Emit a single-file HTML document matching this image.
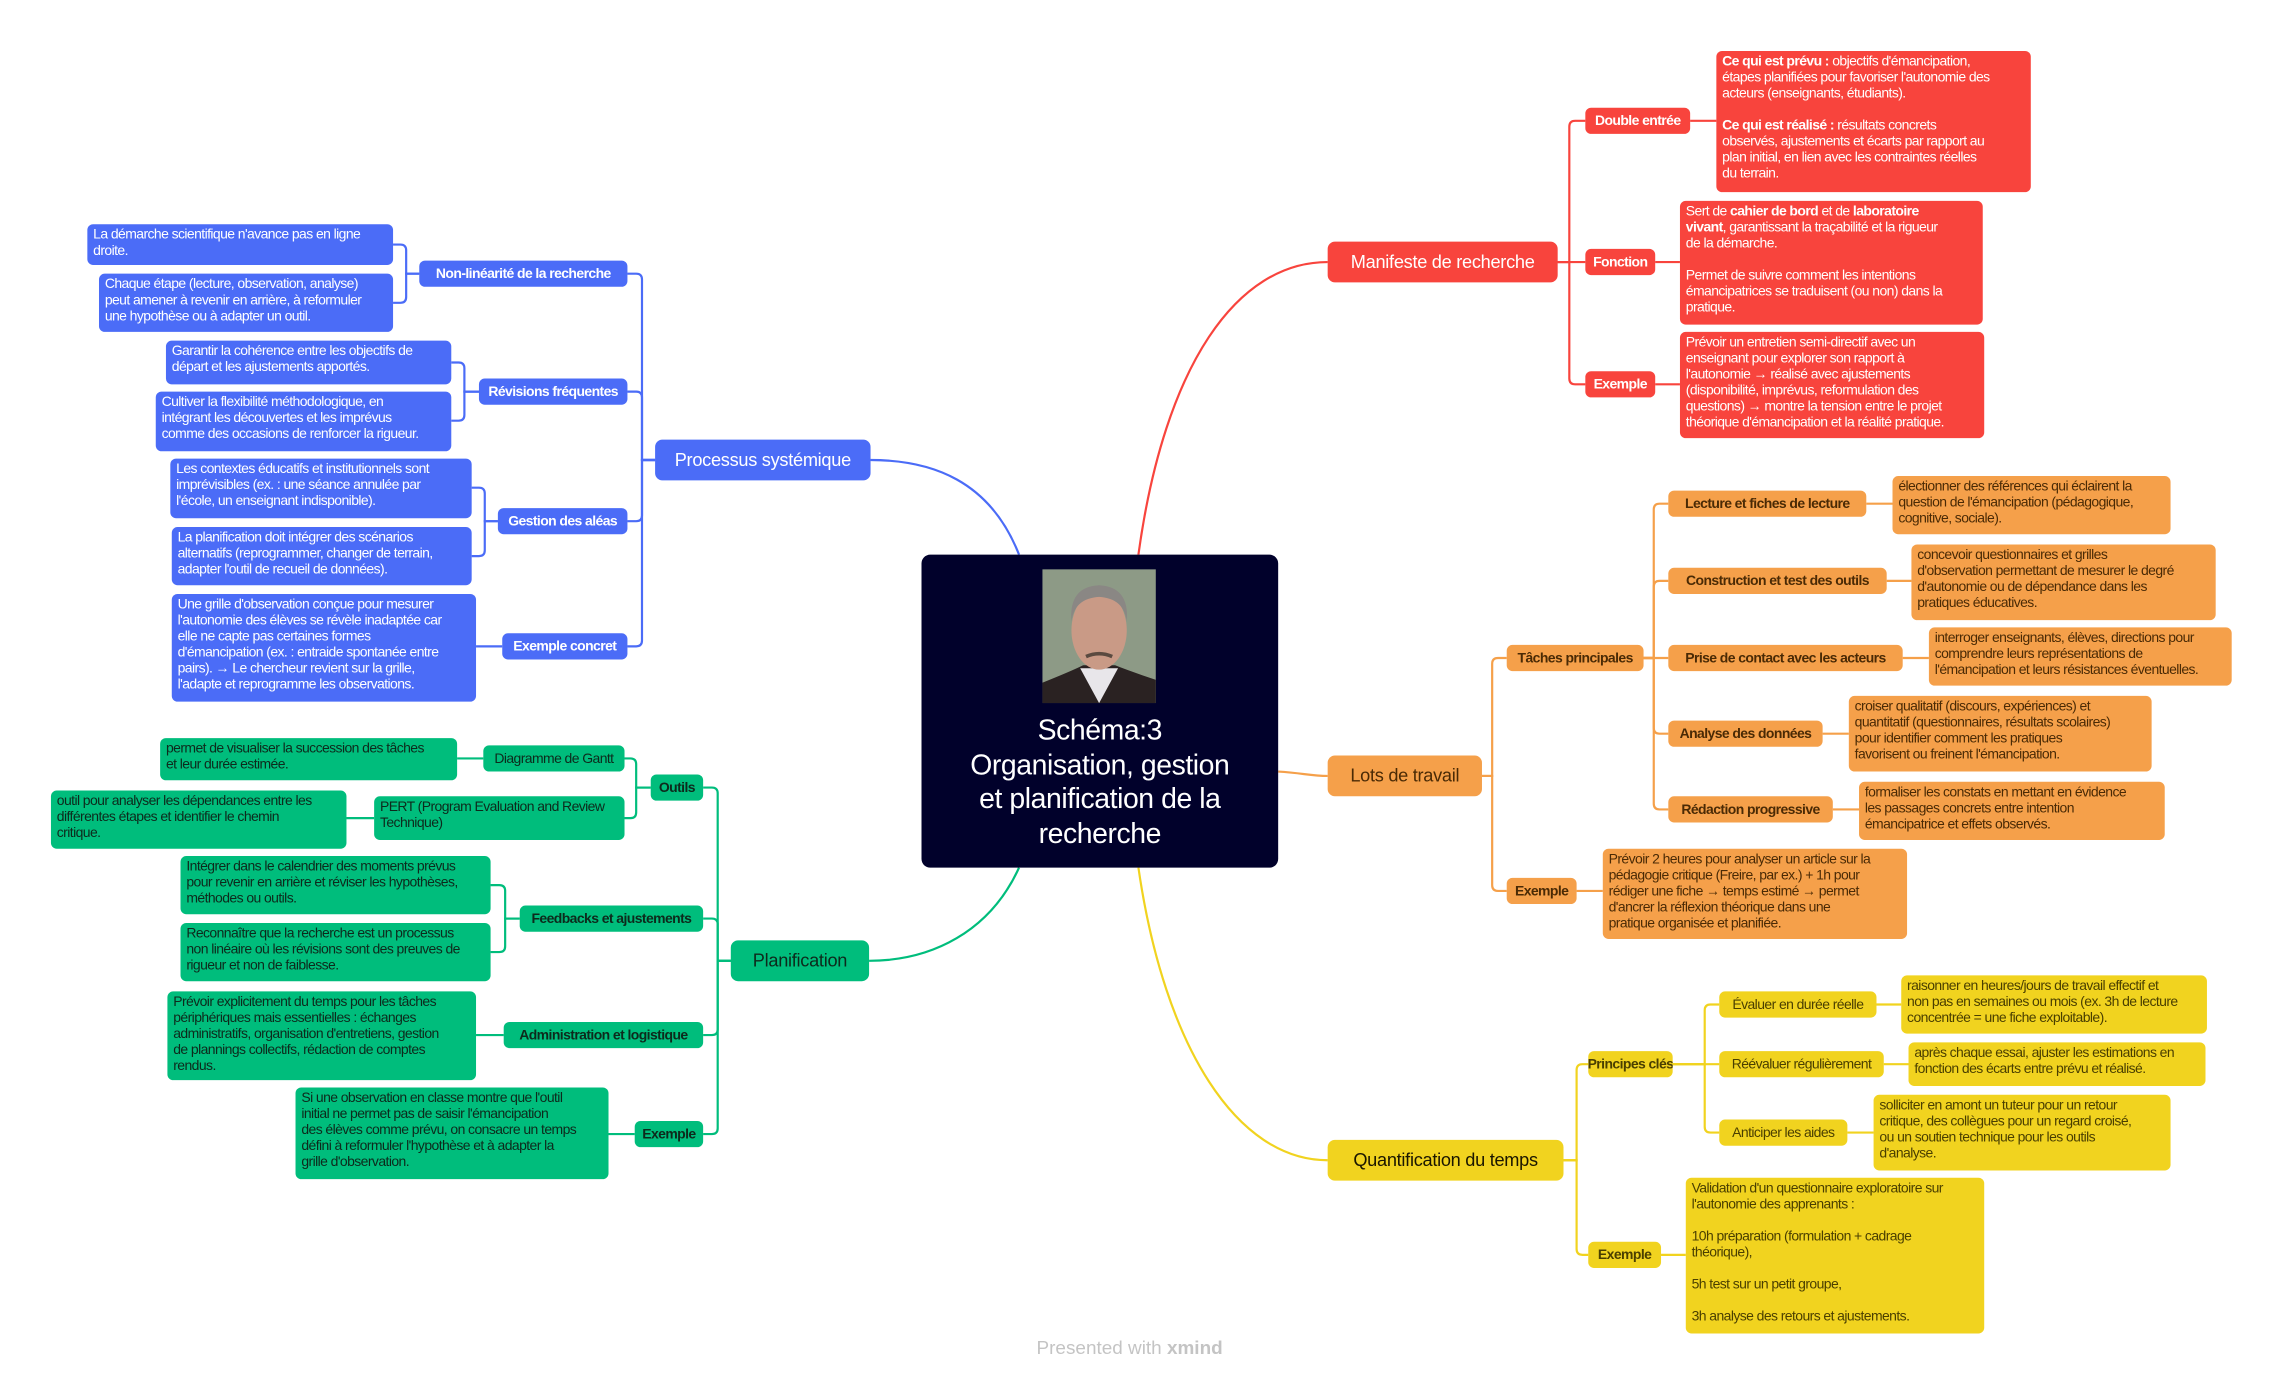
<!DOCTYPE html>
<html><head><meta charset="utf-8">
<style>
html,body{margin:0;padding:0;background:#fff;width:2271px;height:1378px;overflow:hidden}
#c{position:absolute;left:0;top:0;width:1560px;height:947px;transform:scale(1.45577);transform-origin:0 0;font-family:"Liberation Sans",sans-serif}
.n{position:absolute;box-sizing:border-box;border-radius:4px;padding:2px 4px;font-size:9.6px;line-height:11px;letter-spacing:-0.4px;white-space:nowrap;overflow:hidden}
.s{font-weight:bold;display:flex;align-items:center;justify-content:center;padding:0 3px}
.m{display:flex;align-items:center;justify-content:center;font-size:12.5px;letter-spacing:-0.2px;border-radius:5px}
.b{background:#4b6cf7;color:#fff}
.r{background:#f8443d;color:#fff}
.g{background:#00bd7c;color:#0d2a1c}
.o{background:#f5a04a;color:#4a2a05}
.y{background:#f1d31f;color:#4a3f00}
.nb{font-weight:normal}
svg{position:absolute;left:0;top:0}
</style></head><body>
<div id="c">
<svg width="1560" height="947" fill="none" stroke-width="1.5">
<g stroke="#4b6cf7">
<path d="M700 381 C 680 330, 640 316, 598 316"/>
<path d="M450 316 H441 V192 Q441 188 437 188 H431"/>
<path d="M450 316 H441 V273 Q441 269 437 269 H431"/>
<path d="M450 316 H441 V354 Q441 358 437 358 H431"/>
<path d="M450 316 H441 V440 Q441 444 437 444 H431"/>
<path d="M288 188 H279 V172 Q279 168 275 168 H270"/>
<path d="M288 188 H279 V204 Q279 208 275 208 H270"/>
<path d="M329 269 H319 V253 Q319 249 315 249 H310"/>
<path d="M329 269 H319 V285 Q319 289 315 289 H310"/>
<path d="M342 358 H333 V339 Q333 335 329 335 H324"/>
<path d="M342 358 H333 V378 Q333 382 329 382 H324"/>
<path d="M345 444 H327"/>
</g>
<g stroke="#00bd7c">
<path d="M700 596 C 680 640, 640 660, 597 660"/>
<path d="M502 660 H493 V545 Q493 541 489 541 H483"/>
<path d="M502 660 H493 V635 Q493 631 489 631 H483"/>
<path d="M502 660 H493 V707 Q493 711 489 711 H483"/>
<path d="M502 660 H493 V775 Q493 779 489 779 H483"/>
<path d="M447 541 H437 V525 Q437 521 433 521 H429"/>
<path d="M447 541 H437 V558 Q437 562 433 562 H429"/>
<path d="M332 521 H314"/>
<path d="M257 562 H238"/>
<path d="M357 631 H347 V612 Q347 608 343 608 H337"/>
<path d="M357 631 H347 V650 Q347 654 343 654 H337"/>
<path d="M346 711 H327"/>
<path d="M436 779 H418"/>
</g>
<g stroke="#f8443d">
<path d="M782 381 C 800 250, 850 180, 912 180"/>
<path d="M1070 180 H1078 V87 Q1078 83 1082 83 H1089"/>
<path d="M1070 180 H1089"/>
<path d="M1070 180 H1078 V260 Q1078 264 1082 264 H1089"/>
<path d="M1161 83 H1179"/>
<path d="M1137 180 H1154"/>
<path d="M1137 264 H1154"/>
</g>
<g stroke="#f5a04a">
<path d="M878 530 C 895 531, 900 533, 912 533"/>
<path d="M1018 533 H1025 V456 Q1025 452 1029 452 H1035"/>
<path d="M1018 533 H1025 V608 Q1025 612 1029 612 H1035"/>
<path d="M1129 452 H1136 V350 Q1136 346 1140 346 H1146"/>
<path d="M1129 452 H1136 V403 Q1136 399 1140 399 H1146"/>
<path d="M1129 452 H1146"/>
<path d="M1129 452 H1136 V500 Q1136 504 1140 504 H1146"/>
<path d="M1129 452 H1136 V552 Q1136 556 1140 556 H1146"/>
<path d="M1282 346 H1300"/><path d="M1296 399 H1313"/><path d="M1307 452 H1325"/>
<path d="M1252 504 H1270"/><path d="M1259 556 H1277"/><path d="M1083 612 H1101"/>
</g>
<g stroke="#f1d31f">
<path d="M782 596 C 800 720, 850 797, 912 797"/>
<path d="M1074 797 H1083 V735 Q1083 731 1087 731 H1091"/>
<path d="M1074 797 H1083 V858 Q1083 862 1087 862 H1091"/>
<path d="M1149 731 H1171 V694 Q1171 690 1175 690 H1181"/>
<path d="M1149 731 H1181"/>
<path d="M1149 731 H1171 V774 Q1171 778 1175 778 H1181"/>
<path d="M1289 690 H1306"/><path d="M1294 731 H1311"/><path d="M1269 778 H1287"/><path d="M1141 862 H1158"/>
</g>
</svg>

<div style="position:absolute;left:633px;top:381px;width:245px;height:215px;background:#01012b;border-radius:6px"></div>
<svg style="left:716px;top:391px" width="78" height="92" viewBox="0 0 78 92">
<rect width="78" height="92" fill="#8d9a86"/>
<path d="M0 92 L0 78 Q20 70 28 66 L50 66 Q60 70 78 76 L78 92 Z" fill="#2a2222"/>
<path d="M26 68 L39 92 L52 68 Z" fill="#e8e6ea"/>
<ellipse cx="39" cy="42" rx="19" ry="27" fill="#c99a86"/>
<path d="M20 36 Q18 12 39 11 Q60 12 58 36 Q56 20 39 19 Q22 20 20 36Z" fill="#8a8784"/>
<path d="M30 60 Q39 56 48 60" stroke="#5a4a40" stroke-width="2.5" fill="none"/>
</svg>
<div style="position:absolute;left:633px;top:491px;width:245px;text-align:center;color:#fff;font-size:19.5px;line-height:23.5px;letter-spacing:-0.3px">Schéma:3<br>Organisation, gestion<br>et planification de la<br>recherche</div>

<div class="n m b" style="left:450px;top:302px;width:148px;height:28px">Processus systémique</div>
<div class="n s b" style="left:288px;top:179px;width:143px;height:18px">Non-linéarité de la recherche</div>
<div class="n s b" style="left:329px;top:260px;width:102px;height:18px">Révisions fréquentes</div>
<div class="n s b" style="left:342px;top:349px;width:89px;height:18px">Gestion des aléas</div>
<div class="n s b" style="left:345px;top:435px;width:86px;height:18px">Exemple concret</div>
<div class="n b" style="left:60px;top:154px;width:210px;height:28px">La démarche scientifique n'avance pas en ligne<br>droite.</div>
<div class="n b" style="left:68px;top:188px;width:202px;height:40px">Chaque étape (lecture, observation, analyse)<br>peut amener à revenir en arrière, à reformuler<br>une hypothèse ou à adapter un outil.</div>
<div class="n b" style="left:114px;top:234px;width:196px;height:30px">Garantir la cohérence entre les objectifs de<br>départ et les ajustements apportés.</div>
<div class="n b" style="left:107px;top:269px;width:203px;height:41px">Cultiver la flexibilité méthodologique, en<br>intégrant les découvertes et les imprévus<br>comme des occasions de renforcer la rigueur.</div>
<div class="n b" style="left:117px;top:315px;width:207px;height:41px">Les contextes éducatifs et institutionnels sont<br>imprévisibles (ex. : une séance annulée par<br>l'école, un enseignant indisponible).</div>
<div class="n b" style="left:118px;top:362px;width:206px;height:40px">La planification doit intégrer des scénarios<br>alternatifs (reprogrammer, changer de terrain,<br>adapter l'outil de recueil de données).</div>
<div class="n b" style="left:118px;top:408px;width:209px;height:74px">Une grille d'observation conçue pour mesurer<br>l'autonomie des élèves se révèle inadaptée car<br>elle ne capte pas certaines formes<br>d'émancipation (ex. : entraide spontanée entre<br>pairs). → Le chercheur revient sur la grille,<br>l'adapte et reprogramme les observations.</div>

<div class="n m g" style="left:502px;top:646px;width:95px;height:28px">Planification</div>
<div class="n s g" style="left:447px;top:532px;width:36px;height:18px">Outils</div>
<div class="n s g" style="left:357px;top:622px;width:126px;height:18px">Feedbacks et ajustements</div>
<div class="n s g" style="left:346px;top:702px;width:137px;height:18px">Administration et logistique</div>
<div class="n s g" style="left:436px;top:770px;width:47px;height:18px">Exemple</div>
<div class="n s g nb" style="left:332px;top:512px;width:97px;height:18px">Diagramme de Gantt</div>
<div class="n g" style="left:257px;top:547px;width:172px;height:30px">PERT (Program Evaluation and Review<br>Technique)</div>
<div class="n g" style="left:110px;top:507px;width:204px;height:29px">permet de visualiser la succession des tâches<br>et leur durée estimée.</div>
<div class="n g" style="left:35px;top:543px;width:203px;height:40px">outil pour analyser les dépendances entre les<br>différentes étapes et identifier le chemin<br>critique.</div>
<div class="n g" style="left:124px;top:588px;width:213px;height:40px">Intégrer dans le calendrier des moments prévus<br>pour revenir en arrière et réviser les hypothèses,<br>méthodes ou outils.</div>
<div class="n g" style="left:124px;top:634px;width:213px;height:40px">Reconnaître que la recherche est un processus<br>non linéaire où les révisions sont des preuves de<br>rigueur et non de faiblesse.</div>
<div class="n g" style="left:115px;top:681px;width:212px;height:61px">Prévoir explicitement du temps pour les tâches<br>périphériques mais essentielles : échanges<br>administratifs, organisation d'entretiens, gestion<br>de plannings collectifs, rédaction de comptes<br>rendus.</div>
<div class="n g" style="left:203px;top:747px;width:215px;height:63px">Si une observation en classe montre que l'outil<br>initial ne permet pas de saisir l'émancipation<br>des élèves comme prévu, on consacre un temps<br>défini à reformuler l'hypothèse et à adapter la<br>grille d'observation.</div>

<div class="n m r" style="left:912px;top:166px;width:158px;height:28px">Manifeste de recherche</div>
<div class="n s r" style="left:1089px;top:74px;width:72px;height:18px">Double entrée</div>
<div class="n s r" style="left:1089px;top:171px;width:48px;height:18px">Fonction</div>
<div class="n s r" style="left:1089px;top:255px;width:48px;height:18px">Exemple</div>
<div class="n r" style="left:1179px;top:35px;width:216px;height:97px"><b>Ce qui est prévu :</b> objectifs d'émancipation,<br>étapes planifiées pour favoriser l'autonomie des<br>acteurs (enseignants, étudiants).<br><br><b>Ce qui est réalisé :</b> résultats concrets<br>observés, ajustements et écarts par rapport au<br>plan initial, en lien avec les contraintes réelles<br>du terrain.</div>
<div class="n r" style="left:1154px;top:138px;width:208px;height:85px">Sert de <b>cahier de bord</b> et de <b>laboratoire</b><br><b>vivant</b>, garantissant la traçabilité et la rigueur<br>de la démarche.<br><br>Permet de suivre comment les intentions<br>émancipatrices se traduisent (ou non) dans la<br>pratique.</div>
<div class="n r" style="left:1154px;top:228px;width:209px;height:73px">Prévoir un entretien semi-directif avec un<br>enseignant pour explorer son rapport à<br>l'autonomie → réalisé avec ajustements<br>(disponibilité, imprévus, reformulation des<br>questions) → montre la tension entre le projet<br>théorique d'émancipation et la réalité pratique.</div>

<div class="n m o" style="left:912px;top:519px;width:106px;height:28px">Lots de travail</div>
<div class="n s o" style="left:1035px;top:443px;width:94px;height:18px">Tâches principales</div>
<div class="n s o" style="left:1035px;top:603px;width:48px;height:18px">Exemple</div>
<div class="n s o" style="left:1146px;top:337px;width:136px;height:18px">Lecture et fiches de lecture</div>
<div class="n s o" style="left:1146px;top:390px;width:150px;height:18px">Construction et test des outils</div>
<div class="n s o" style="left:1146px;top:443px;width:161px;height:18px">Prise de contact avec les acteurs</div>
<div class="n s o" style="left:1146px;top:495px;width:106px;height:18px">Analyse des données</div>
<div class="n s o" style="left:1146px;top:547px;width:113px;height:18px">Rédaction progressive</div>
<div class="n o" style="left:1300px;top:327px;width:191px;height:40px">électionner des références qui éclairent la<br>question de l'émancipation (pédagogique,<br>cognitive, sociale).</div>
<div class="n o" style="left:1313px;top:374px;width:209px;height:52px">concevoir questionnaires et grilles<br>d'observation permettant de mesurer le degré<br>d'autonomie ou de dépendance dans les<br>pratiques éducatives.</div>
<div class="n o" style="left:1325px;top:431px;width:208px;height:40px">interroger enseignants, élèves, directions pour<br>comprendre leurs représentations de<br>l'émancipation et leurs résistances éventuelles.</div>
<div class="n o" style="left:1270px;top:478px;width:208px;height:52px">croiser qualitatif (discours, expériences) et<br>quantitatif (questionnaires, résultats scolaires)<br>pour identifier comment les pratiques<br>favorisent ou freinent l'émancipation.</div>
<div class="n o" style="left:1277px;top:537px;width:210px;height:40px">formaliser les constats en mettant en évidence<br>les passages concrets entre intention<br>émancipatrice et effets observés.</div>
<div class="n o" style="left:1101px;top:583px;width:209px;height:62px">Prévoir 2 heures pour analyser un article sur la<br>pédagogie critique (Freire, par ex.) + 1h pour<br>rédiger une fiche → temps estimé → permet<br>d'ancrer la réflexion théorique dans une<br>pratique organisée et planifiée.</div>

<div class="n m y" style="left:912px;top:783px;width:162px;height:28px;color:#1a1600">Quantification du temps</div>
<div class="n s y" style="left:1091px;top:722px;width:58px;height:18px">Principes clés</div>
<div class="n s y" style="left:1091px;top:853px;width:50px;height:18px">Exemple</div>
<div class="n s y nb" style="left:1181px;top:681px;width:108px;height:18px">Évaluer en durée réelle</div>
<div class="n s y nb" style="left:1181px;top:722px;width:113px;height:18px">Réévaluer régulièrement</div>
<div class="n s y nb" style="left:1181px;top:769px;width:88px;height:18px">Anticiper les aides</div>
<div class="n y" style="left:1306px;top:670px;width:210px;height:40px">raisonner en heures/jours de travail effectif et<br>non pas en semaines ou mois (ex. 3h de lecture<br>concentrée = une fiche exploitable).</div>
<div class="n y" style="left:1311px;top:716px;width:204px;height:30px">après chaque essai, ajuster les estimations en<br>fonction des écarts entre prévu et réalisé.</div>
<div class="n y" style="left:1287px;top:752px;width:204px;height:52px">solliciter en amont un tuteur pour un retour<br>critique, des collègues pour un regard croisé,<br>ou un soutien technique pour les outils<br>d'analyse.</div>
<div class="n y" style="left:1158px;top:809px;width:205px;height:107px">Validation d'un questionnaire exploratoire sur<br>l'autonomie des apprenants :<br><br>10h préparation (formulation + cadrage<br>théorique),<br><br>5h test sur un petit groupe,<br><br>3h analyse des retours et ajustements.</div>

<div style="position:absolute;left:712px;top:918px;font-size:13px;color:#c4c4c4;letter-spacing:0">Presented with <b>xmind</b></div>
</div>
</body></html>
